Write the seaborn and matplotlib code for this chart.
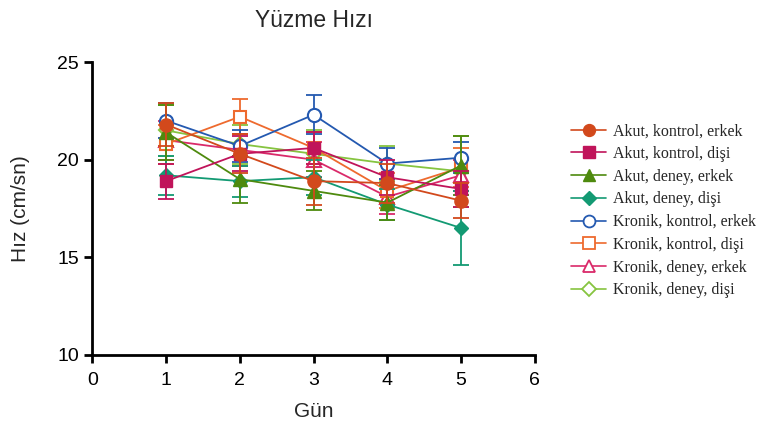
import numpy as np
import pandas as pd
import matplotlib
matplotlib.use("Agg")
import matplotlib.pyplot as plt
import seaborn as sns
from matplotlib.lines import Line2D

days = [1, 2, 3, 4, 5]
labels = ["Akut, kontrol, erkek", "Akut, kontrol, dişi", "Akut, deney, erkek", "Akut, deney, dişi",
          "Kronik, kontrol, erkek", "Kronik, kontrol, dişi", "Kronik, deney, erkek", "Kronik, deney, dişi"]

akut_kontrol_erkek = [21.8, 20.3, 18.9, 18.8, 17.9]
akut_kontrol_disi = [18.9, 20.3, 20.6, 19.1, 18.5]
akut_deney_erkek = [21.4, 19.0, 18.4, 17.8, 19.7]
akut_deney_disi = [19.2, 18.9, 19.1, 17.7, 16.5]
kronik_kontrol_erkek = [22.0, 20.7, 22.3, 19.8, 20.1]
kronik_kontrol_disi = [20.8, 22.2, 20.6, 18.4, 19.6]
kronik_deney_erkek = [21.0, 20.5, 20.0, 18.1, 19.2]
kronik_deney_disi = [21.5, 20.8, 20.3, 19.8, 19.4]

err_akut_kontrol_erkek = [1.1, 1.0, 1.2, 1.0, 0.9]
err_akut_kontrol_disi = [0.9, 0.9, 0.8, 0.9, 0.9]
err_akut_deney_erkek = [1.4, 1.2, 1.0, 0.9, 1.5]
err_akut_deney_disi = [1.0, 0.8, 0.9, 0.8, 1.9]
err_kronik_kontrol_erkek = [0.9, 0.8, 1.0, 0.8, 0.8]
err_kronik_kontrol_disi = [1.0, 0.9, 0.8, 0.9, 1.0]
err_kronik_deney_erkek = [1.0, 0.8, 0.9, 0.9, 0.8]
err_kronik_deney_disi = [1.3, 1.0, 1.2, 0.9, 1.8]

means = [akut_kontrol_erkek, akut_kontrol_disi, akut_deney_erkek, akut_deney_disi,
         kronik_kontrol_erkek, kronik_kontrol_disi, kronik_deney_erkek, kronik_deney_disi]
errs = [err_akut_kontrol_erkek, err_akut_kontrol_disi, err_akut_deney_erkek, err_akut_deney_disi,
        err_kronik_kontrol_erkek, err_kronik_kontrol_disi, err_kronik_deney_erkek, err_kronik_deney_disi]

colors = ["#D2491C", "#C0145A", "#4E8A0E", "#139A73", "#2459B0", "#EE6A2E", "#DA2A6A", "#86C440"]
markers = ["o", "s", "^", "D", "o", "s", "^", "D"]
filled = [True, True, True, True, False, False, False, False]
msizes = [9.5, 9, 10, 7.5, 9.5, 9, 10, 7.5]

sns.set_theme(style="ticks")
plt.rcParams['font.family'] = ['Liberation Sans', 'DejaVu Sans']

fig = plt.figure(figsize=(7.82, 4.25), dpi=100)
ax = fig.add_axes([0.118, 0.165, 0.566, 0.689])

handles = []
n = len(labels)
for i, lab in enumerate(labels):
    df = pd.DataFrame({"Gün": days, "Hız": means[i]})
    c = colors[i]
    z = 2 + (n - i) * 0.1
    ax.errorbar(days, means[i], yerr=errs[i], fmt="none", ecolor=c, elinewidth=1.3,
                capsize=6, capthick=1.3, zorder=z)
    sns.lineplot(data=df, x="Gün", y="Hız", ax=ax, color=c, linewidth=1.3,
                 marker=markers[i], markersize=msizes[i],
                 markerfacecolor=c if filled[i] else "white",
                 markeredgecolor=c, markeredgewidth=1.0 if filled[i] else 1.5,
                 zorder=z + 0.05, legend=False)
    handles.append(Line2D([0], [0], color=c, linewidth=1.2, marker=markers[i],
                          markersize=msizes[i] * 0.9,
                          markerfacecolor=c if filled[i] else "white",
                          markeredgecolor=c, markeredgewidth=1.0 if filled[i] else 1.3))

ax.set_xlim(0, 6)
ax.set_ylim(10, 25)
ax.set_xticks([0, 1, 2, 3, 4, 5, 6])
ax.set_yticks([10, 15, 20, 25])
sns.despine(ax=ax)
for s in ["left", "bottom"]:
    ax.spines[s].set_linewidth(2)
    ax.spines[s].set_color("black")
ax.tick_params(axis="both", direction="out", length=6, width=2, labelsize=14, colors="black")
ax.tick_params(axis="x", pad=6)
ax.set_xlabel("Gün", fontsize=15, labelpad=10)
ax.set_ylabel("Hız (cm/sn)", fontsize=15, labelpad=20)
ax.set_title("Yüzme Hızı", fontsize=16.5, pad=25)

fig.legend(handles, labels, loc="upper left", bbox_to_anchor=(0.722, 0.725),
           frameon=False, prop={"family": "Liberation Serif", "size": 11.5},
           labelspacing=0.42, handlelength=2.2, handletextpad=0.4, borderaxespad=0)

fig.savefig("out.png", dpi=100)
